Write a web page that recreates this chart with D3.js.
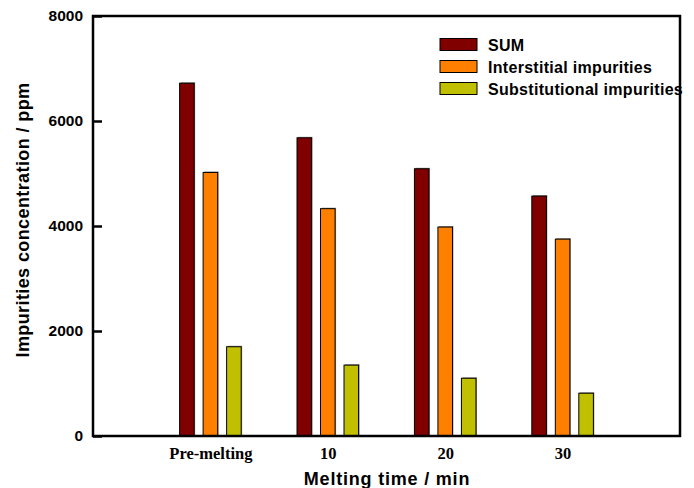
<!DOCTYPE html>
<html>
<head>
<meta charset="utf-8">
<script src="https://cdn.jsdelivr.net/npm/d3@7"></script>
<style>
  body { margin: 0; background: #fff; }
  svg { display: block; }
</style>
</head>
<body>
<div id="chart"></div>
<script>
const width = 694
const height = 488
const margin = ({ top: 16, right: 14, bottom: 52, left: 93 })

// data
const categories = ['Pre-melting', '10', '20', '30']
const seriesNames = ['SUM', 'Interstitial impurities', 'Substitutional impurities']
const sumValues = [6720, 5680, 5090, 4570]
const interstitialValues = [5020, 4330, 3980, 3750]
const substitutionalValues = [1700, 1350, 1100, 815]
const yTicks = [0, 2000, 4000, 6000, 8000]
const colors = ['#800000', '#ff8000', '#c0c000']

const seriesValues = [sumValues, interstitialValues, substitutionalValues]
const sans = 'Liberation Sans, Arial, sans-serif'

const svg = d3.select('#chart').append('svg')
  .attr('width', width)
  .attr('height', height)

let x = d3.scalePoint()
  .domain(categories)
  .range([margin.left, width - margin.right])
  .padding(1)

let x1 = d3.scaleBand()
  .domain(seriesNames)
  .range([-35.25, 35.25])
  .paddingInner(0.38)
  .paddingOuter(0.19)

let y = d3.scaleLinear()
  .domain([0, 8000])
  .range([height - margin.bottom, margin.top])

// bars, with a faint grey shadow on the right like the original
const groups = svg.append('g')
  .selectAll('g')
  .data(categories)
  .join('g')
  .attr('transform', d => 'translate(' + x(d) + ',0)')

const barData = (c, i) => seriesNames.map((s, k) => ({ s: s, v: seriesValues[k][i], k: k }))

groups.selectAll('rect.shadow')
  .data(barData)
  .join('rect')
  .attr('class', 'shadow')
  .attr('x', d => x1(d.s) + 1)
  .attr('y', d => y(d.v) - 1)
  .attr('width', x1.bandwidth())
  .attr('height', d => y(0) - y(d.v))
  .attr('fill', '#9a9a9a')

groups.selectAll('rect.bar')
  .data(barData)
  .join('rect')
  .attr('class', 'bar')
  .attr('x', d => x1(d.s))
  .attr('y', d => y(d.v))
  .attr('width', x1.bandwidth())
  .attr('height', d => y(0) - y(d.v))
  .attr('fill', d => colors[d.k])
  .attr('stroke', '#000')
  .attr('stroke-width', 1)

// frame
svg.append('rect')
  .attr('x', margin.left)
  .attr('y', margin.top)
  .attr('width', width - margin.left - margin.right)
  .attr('height', height - margin.top - margin.bottom)
  .attr('fill', 'none')
  .attr('stroke', '#000')
  .attr('stroke-width', 2.5)

// y axis, ticks pointing inward
let yAxis = d3.axisLeft(y).tickValues(yTicks).tickSize(-9).tickPadding(18).tickFormat(d3.format('d'))
const gy = svg.append('g')
  .attr('transform', 'translate(' + margin.left + ',0)')
  .call(yAxis)
gy.select('.domain').remove()
gy.selectAll('line').attr('stroke-width', 2.5)
gy.selectAll('text')
  .attr('x', -10)
  .style('font-family', sans)
  .style('font-weight', 'bold')
  .style('font-size', '15.5px')
  .attr('fill', '#000')

// x axis labels
let xAxis = d3.axisBottom(x).tickSize(0).tickPadding(11)
const gx = svg.append('g')
  .attr('transform', 'translate(0,' + (height - margin.bottom) + ')')
  .call(xAxis)
gx.select('.domain').remove()
gx.selectAll('text')
  .style('font-family', 'Liberation Serif, Times New Roman, serif')
  .style('font-weight', 'bold')
  .style('font-size', '16.5px')
  .attr('fill', '#000')

// axis titles
svg.append('text')
  .attr('x', 387)
  .attr('y', 485)
  .attr('text-anchor', 'middle')
  .style('font-family', sans)
  .style('font-weight', 'bold')
  .style('font-size', '18px')
  .style('letter-spacing', '0.8px')
  .text('Melting time / min')

svg.append('text')
  .attr('transform', 'rotate(-90)')
  .attr('x', -220)
  .attr('y', 29)
  .attr('text-anchor', 'middle')
  .style('font-family', sans)
  .style('font-weight', 'bold')
  .style('font-size', '18px')
  .style('letter-spacing', '0.4px')
  .text('Impurities concentration / ppm')

// legend
const legend = svg.append('g')
  .selectAll('g')
  .data(seriesNames)
  .join('g')
  .attr('transform', (d, i) => 'translate(440,' + (38.5 + i * 22) + ')')

legend.append('rect')
  .attr('width', 37)
  .attr('height', 12)
  .attr('fill', (d, i) => colors[i])
  .attr('stroke', '#000')
  .attr('stroke-width', 1)

legend.append('text')
  .attr('x', 48)
  .attr('y', 12)
  .style('font-family', sans)
  .style('font-weight', 'bold')
  .style('font-size', '16px')
  .style('letter-spacing', '0.3px')
  .text(d => d)
</script>
</body>
</html>
